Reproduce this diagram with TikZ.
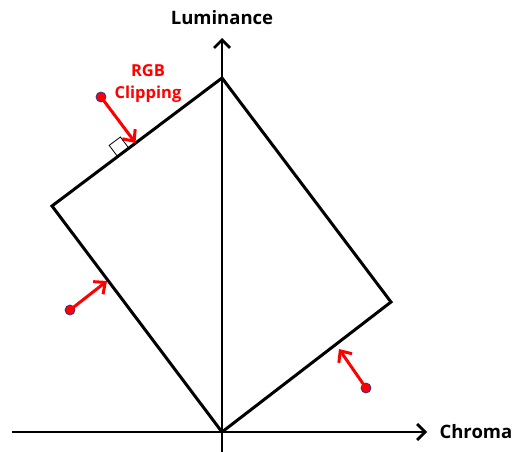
\documentclass[tikz,border=0pt]{standalone}
\usepackage{fontspec}
\setmainfont{Open Sans}
\usetikzlibrary{positioning}
\usetikzlibrary{arrows.meta}
\tikzset{axis/.style = {line width=2.8pt, -{Straight Barb[length=8pt,width=16pt,line width=2.8pt]}}}
\tikzset{edge/.style = {line width=3pt, line join=miter}}
\tikzset{clip arrow/.style = {red, line width=3pt, -{Straight Barb[length=9pt,width=16pt,line width=3pt]}}}
\tikzset{circ/.style = {fill=red, draw=black!40!blue!60!gray, line width=0.8pt, circle, inner sep = 0, minimum size = 10pt}}
\tikzset{lbl/.style = {font=\fontsize{18.5}{21}\selectfont\bfseries}}
\tikzset{redlbl/.style = {red, align=center, font=\fontsize{16.5}{22}\selectfont\bfseries}}

\begin{document}
\begin{tikzpicture}[x=1pt,y=-1pt]
    \useasboundingbox (0,0) rectangle (517,452);
    % axes
    \coordinate (o) at (222,432);
    \coordinate (ybot) at (222,452);
    \coordinate (ytop) at (222,38);
    \coordinate (xleft) at (12,432);
    \coordinate (xright) at (427,432);
    \draw[axis] (ybot) -- (ytop);
    \draw[axis] (xleft) -- (xright);
    \node[lbl, anchor=south] (lum) at (222,28) {Luminance};
    \node[lbl, anchor=west] (chroma) at (436,432) {Chroma};
    % gamut box
    \coordinate (vl) at (52,206);
    \coordinate (vt) at (222,78);
    \coordinate (vr) at (391,302);
    \draw[edge] (o) -- (vl) -- (vt) -- (vr) -- cycle;
    % clipping
    \node[circ] (p0) at (101,97) {};
    \node[circ] (p1) at (70,310) {};
    \node[circ] (p2) at (366,388) {};
    \coordinate (f0) at (135.5,143);
    \coordinate (f1) at (107,281);
    \coordinate (f2) at (339,349);
    \draw[clip arrow] (p0.center) -- (f0);
    \draw[clip arrow] (p1.center) -- (f1);
    \draw[clip arrow] (p2.center) -- (f2);
    \draw[line width=0.8pt] (117.6,156.6) -- (109.2,145.4) -- (120.4,137) -- (128.8,148.2);
    \node[redlbl] (rgb) at (148,84) {RGB\\Clipping};
  \end{tikzpicture}
\end{document}
